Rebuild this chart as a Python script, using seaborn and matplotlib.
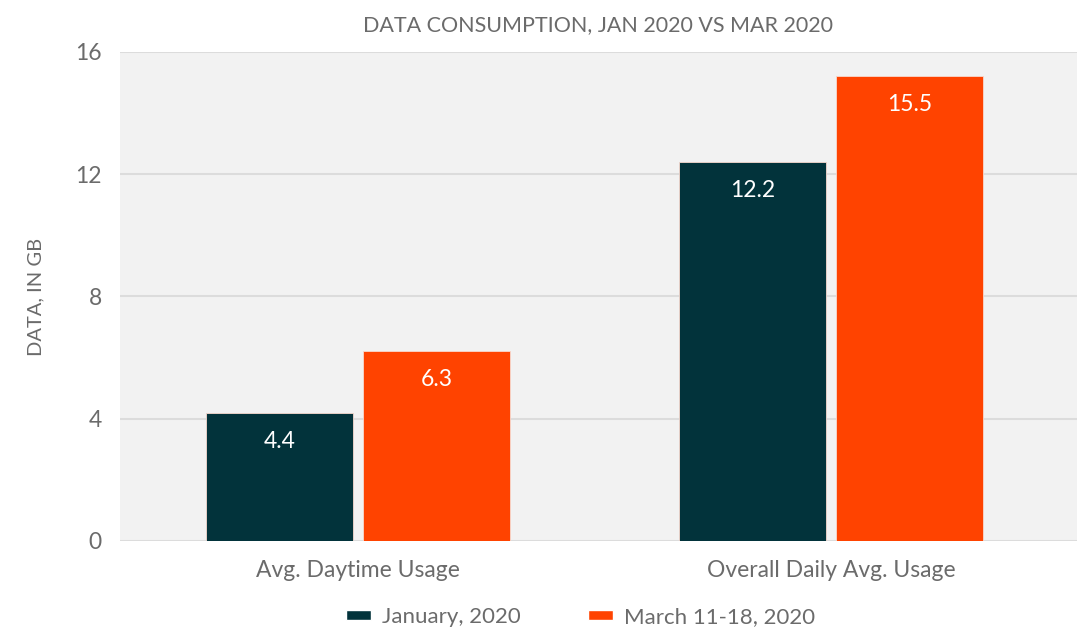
import pandas as pd
import matplotlib
matplotlib.use("Agg")
import matplotlib.pyplot as plt
import seaborn as sns
from matplotlib.patches import Patch

# Chart data
categories = ["Avg. Daytime Usage", "Overall Daily Avg. Usage"]
series_names = ["January, 2020", "March 11-18, 2020"]
jan_values = [4.2, 12.4]
mar_values = [6.2, 15.2]
jan_labels = ["4.4", "12.2"]
mar_labels = ["6.3", "15.5"]
yticks = [0, 4, 8, 12, 16]

colors = ["#02333b", "#ff4300"]
gray = "#6b6b6b"

df = pd.DataFrame({
    "category": categories * 2,
    "series": [series_names[0]] * 2 + [series_names[1]] * 2,
    "value": jan_values + mar_values,
})

sns.set_theme(style="white")
plt.rcParams["font.family"] = ["Lato", "DejaVu Sans"]

fig = plt.figure(figsize=(10.84, 6.27), dpi=100)
ax = fig.add_axes([0.1107, 0.1372, 0.8828, 0.7799])
ax.set_facecolor("#f2f2f2")

sns.barplot(data=df, x="category", y="value", hue="series", order=categories,
            hue_order=series_names, palette=colors, saturation=1, width=0.664, gap=0.063,
            edgecolor="#f7d9cf", linewidth=0.6, ax=ax, legend=False)

# value labels inside bar tops
for container, labels in zip(ax.containers, [jan_labels, mar_labels]):
    ax.bar_label(container, labels=labels, padding=-28, color="white", fontsize=16.5)

ax.set_ylim(0, 16)
ax.set_xlim(-0.503, 1.52)
ax.set_yticks(yticks)
ax.yaxis.grid(True, color="#dcdcdc", linewidth=1.5)
ax.set_axisbelow(True)
for s in ax.spines.values():
    s.set_visible(False)
ax.tick_params(axis="both", length=0, colors=gray, labelsize=16.5)
ax.tick_params(axis="y", pad=13)
ax.tick_params(axis="x", pad=14)
ax.set_xlabel("")
ax.set_ylabel("DATA, IN GB", color=gray, fontsize=14.5, labelpad=22)
ax.set_title("DATA CONSUMPTION, JAN 2020 VS MAR 2020", color=gray, fontsize=15.5, pad=15)

handles = [Patch(facecolor=c, label=n) for c, n in zip(colors, series_names)]
fig.legend(handles=handles, loc="lower center", bbox_to_anchor=(0.5355, -0.032), ncol=2,
           frameon=False, fontsize=16, labelcolor=gray, handlelength=1.15, handleheight=0.3,
           columnspacing=3.0, handletextpad=0.5)

fig.savefig("out.png", dpi=100)
